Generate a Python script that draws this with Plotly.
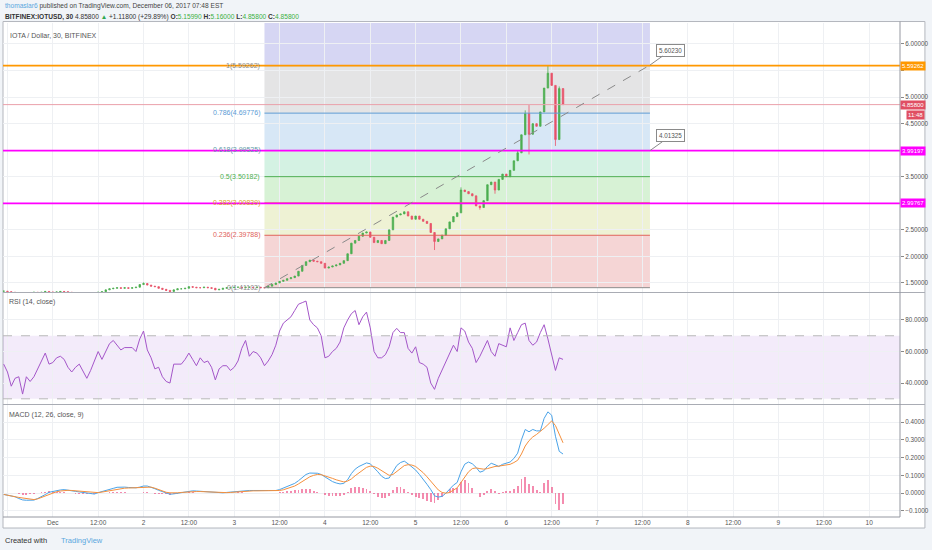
import pandas as pd
import plotly.graph_objects as go

# hourly candles, 2017-11-30 11:00 -> 2017-12-06 15:00
closes = [
    1.345, 1.335, 1.325, 1.32, 1.32, 1.315, 1.32, 1.32, 1.325, 1.32, 1.325, 1.34, 1.325,
    1.325, 1.33, 1.34, 1.335, 1.325, 1.32, 1.32, 1.315, 1.32, 1.32,
    1.315, 1.32, 1.325, 1.335, 1.37, 1.39, 1.40, 1.41, 1.40, 1.41,
    1.40, 1.41, 1.42, 1.47, 1.49, 1.46, 1.44, 1.43, 1.40, 1.38,
    1.36, 1.34, 1.37, 1.39, 1.39, 1.40, 1.43, 1.42, 1.41, 1.41,
    1.42, 1.41, 1.40, 1.37, 1.38, 1.40, 1.41, 1.41, 1.42, 1.42,
    1.41, 1.42, 1.42, 1.41, 1.42, 1.41, 1.41, 1.44, 1.47, 1.50,
    1.53, 1.55, 1.58, 1.60, 1.63, 1.72, 1.83, 1.90, 1.93, 1.91,
    1.90, 1.87, 1.78, 1.80, 1.82, 1.84, 1.87, 1.92, 2.05, 2.25,
    2.30, 2.38, 2.44, 2.46, 2.36, 2.26, 2.30, 2.24, 2.30, 2.50,
    2.74, 2.78, 2.80, 2.84, 2.76, 2.70, 2.76, 2.70, 2.66, 2.62,
    2.45, 2.28, 2.33, 2.40, 2.52, 2.65, 2.75, 2.82, 3.25, 3.22,
    3.18, 3.14, 2.95, 2.92, 3.05, 3.35, 3.40, 3.25, 3.45, 3.55,
    3.50, 3.62, 3.80, 3.95, 4.29, 4.69, 4.30, 4.50, 4.45, 4.72,
    5.17, 5.45, 5.22, 4.20, 5.16, 4.858,
]
wick_high = {
    "2017-12-02 00:00": 1.51, "2017-12-05 12:00": 3.30, "2017-12-06 03:00": 4.00,
    "2017-12-06 05:00": 4.75, "2017-12-06 06:00": 4.85, "2017-12-06 11:00": 5.59,
    "2017-12-06 14:00": 5.20, "2017-12-06 15:00": 5.16,
}
wick_low = {
    "2017-12-05 05:00": 2.12, "2017-12-05 17:00": 2.88, "2017-12-05 21:00": 3.18,
    "2017-12-06 06:00": 3.92, "2017-12-06 11:00": 5.17, "2017-12-06 13:00": 4.08,
}

rsi = [
    52, 47, 38, 43, 44, 33, 44, 41, 44, 49, 54, 59, 52,
    53, 56, 57, 55, 50, 47, 50, 52, 47, 43,
    48, 54, 60, 55, 60, 65, 67, 64, 61, 62.5,
    62.5, 62.5, 60, 68, 73, 61, 56, 49, 50, 44,
    41, 40, 52, 52, 52, 55, 59, 55, 51, 56,
    53, 54, 50, 42, 49, 51, 51, 48, 50, 54,
    62, 67, 57, 60, 59, 56, 51, 54, 58, 64,
    73, 78, 80, 82, 86, 90, 91, 92, 80, 77,
    75, 70, 56, 57, 60, 62, 66, 75, 80, 84,
    86, 77, 82, 85, 75, 60, 56, 56, 58, 63,
    72, 74.7, 72, 72, 62, 59, 63, 53, 52, 50,
    40, 36, 43, 48, 54, 59, 64, 60, 75, 73,
    66, 62, 53, 57, 62, 67, 60, 57, 65, 64,
    63, 75, 67, 72, 77, 78, 67, 64, 66, 72,
    77, 68, 58, 48, 56, 55,
]

macd = [
    -0.007, -0.010, -0.014, -0.020, -0.030, -0.038, -0.040, -0.040, -0.039, -0.030, -0.020, -0.008, 0.005,
    0.010, 0.014, 0.018, 0.020, 0.018, 0.014, 0.010, 0.007, 0.003, 0.000,
    -0.004, -0.005, 0.003, 0.008, 0.013, 0.020, 0.027, 0.033, 0.035, 0.034,
    0.032, 0.030, 0.030, 0.034, 0.040, 0.040, 0.034, 0.025, 0.016, 0.008,
    0.000, -0.006, -0.004, 0.000, 0.004, 0.008, 0.012, 0.013, 0.012, 0.010,
    0.008, 0.006, 0.004, 0.002, 0.001, 0.002, 0.004, 0.006, 0.009, 0.012,
    0.014, 0.015, 0.015, 0.015, 0.014, 0.014, 0.014, 0.015, 0.015, 0.015,
    0.020, 0.028, 0.035, 0.043, 0.055, 0.070, 0.090, 0.105, 0.113, 0.114,
    0.112, 0.105, 0.090, 0.075, 0.065, 0.057, 0.052, 0.055, 0.075, 0.110,
    0.135, 0.150, 0.160, 0.170, 0.165, 0.145, 0.120, 0.095, 0.082, 0.085,
    0.120, 0.155, 0.172, 0.180, 0.165, 0.150, 0.130, 0.105, 0.080, 0.050,
    0.020, -0.015, -0.022, -0.018, 0.000, 0.025, 0.045, 0.060, 0.120, 0.163,
    0.175, 0.165, 0.145, 0.118, 0.125, 0.150, 0.168, 0.160, 0.150, 0.162,
    0.170, 0.175, 0.195, 0.225, 0.300, 0.358, 0.345, 0.358, 0.350, 0.350,
    0.420, 0.457, 0.438, 0.320, 0.235, 0.220,
]
signal = [
    -0.007, -0.010, -0.014, -0.020, -0.024, -0.028, -0.032, -0.035, -0.036, -0.032, -0.024, -0.015, -0.005,
    0.002, 0.008, 0.012, 0.015, 0.016, 0.015, 0.013, 0.010, 0.008, 0.005,
    0.003, 0.002, 0.003, 0.006, 0.010, 0.015, 0.020, 0.024, 0.026, 0.028,
    0.029, 0.030, 0.031, 0.033, 0.035, 0.036, 0.034, 0.028, 0.020, 0.012,
    0.005, 0.002, 0.001, 0.002, 0.004, 0.006, 0.008, 0.009, 0.009, 0.009,
    0.008, 0.007, 0.005, 0.003, 0.002, 0.002, 0.003, 0.004, 0.006, 0.008,
    0.010, 0.012, 0.013, 0.013, 0.013, 0.013, 0.013, 0.013, 0.013, 0.013,
    0.015, 0.019, 0.025, 0.032, 0.040, 0.052, 0.065, 0.080, 0.092, 0.100,
    0.105, 0.104, 0.098, 0.090, 0.083, 0.075, 0.068, 0.063, 0.068, 0.080,
    0.098, 0.115, 0.130, 0.145, 0.152, 0.150, 0.140, 0.125, 0.110, 0.100,
    0.105, 0.120, 0.140, 0.155, 0.160, 0.158, 0.150, 0.135, 0.115, 0.092,
    0.068, 0.040, 0.018, 0.004, 0.000, 0.004, 0.015, 0.030, 0.060, 0.090,
    0.120, 0.138, 0.142, 0.138, 0.135, 0.138, 0.145, 0.150, 0.152, 0.155,
    0.158, 0.162, 0.172, 0.185, 0.220, 0.265, 0.295, 0.316, 0.330, 0.345,
    0.365, 0.385, 0.406, 0.380, 0.330, 0.283,
]

# fibonacci retracement tool
fib_labels = ["0", "0.236", "0.382", "0.5", "0.618", "0.786", "1"]
fib_values = [1.41102, 2.39788, 3.00839, 3.50182, 3.99525, 4.69776, 5.59262]
fib_line_colors = ["#8c8c8c", "#e0625a", "#d9a520", "#4caf50", "#5b9aa6", "#5b9bd5", "#8c8c8c"]
fib_fill_colors = ["#f5d5d5", "#eef2d4", "#d7f2d5", "#d4f2e3", "#d7e7f6", "#e4e4e5", "#d6d6f3"]
fib_start = "2017-12-03 08:00"
fib_end = "2017-12-07 14:00"
trend_end_value = 5.60230

hline_values = [5.59262, 3.99197, 2.99767]
hline_colors = ["#ff9800", "#ff00ff", "#ff00ff"]
last_price = 4.858

x_tickvals = pd.date_range("2017-11-30 12:00", "2017-12-10 00:00", freq="12h")
x_ticktext = ["12:00", "Dec", "12:00", "2", "12:00", "3", "12:00", "4", "12:00", "5",
              "12:00", "6", "12:00", "7", "12:00", "8", "12:00", "9", "12:00", "10"]
price_ticks = [1.5, 2.0, 2.5, 3.0, 3.5, 4.0, 4.5, 5.0, 5.5, 6.0]
price_ticktext = ["1.50000", "2.00000", "2.50000", "", "3.50000", "", "4.50000", "5.00000", "", "6.00000"]
rsi_ticks = [40, 60, 80]
macd_ticks = [-0.1, 0.0, 0.1, 0.2, 0.3, 0.4]

times = pd.date_range("2017-11-30 11:00", periods=len(closes), freq="h")
opens = [closes[0]] + closes[:-1]
highs, lows = [], []
for t, o, c in zip(times, opens, closes):
    key = t.strftime("%Y-%m-%d %H:%M")
    highs.append(wick_high.get(key, max(o, c)))
    lows.append(wick_low.get(key, min(o, c)))
hist = [m - s for m, s in zip(macd, signal)]

FONT = "Liberation Sans, Arial, sans-serif"
GRID = "#eef0f3"
AXIS = "#9598a1"
x_range = ["2017-11-30 10:49", "2017-12-10 08:10"]

fig = go.Figure()

fig.add_trace(go.Candlestick(
    x=times, open=opens, high=highs, low=lows, close=closes, xaxis="x", yaxis="y",
    increasing=dict(line=dict(color="#4caf50", width=0.8), fillcolor="#4caf50"),
    decreasing=dict(line=dict(color="#e8536a", width=0.8), fillcolor="#e8536a"),
    whiskerwidth=0, showlegend=False, hoverinfo="skip"))

fig.add_trace(go.Scatter(x=times, y=rsi, xaxis="x2", yaxis="y2", mode="lines",
                         line=dict(color="#a456c9", width=1), showlegend=False, hoverinfo="skip"))

fig.add_trace(go.Bar(x=times, y=hist, xaxis="x3", yaxis="y3", width=1800000,
                     marker=dict(color="rgba(236, 64, 122, 0.6)", line=dict(width=0)),
                     showlegend=False, hoverinfo="skip"))
fig.add_trace(go.Scatter(x=times, y=macd, xaxis="x3", yaxis="y3", mode="lines",
                         line=dict(color="#4aa3e8", width=1), showlegend=False, hoverinfo="skip"))
fig.add_trace(go.Scatter(x=times, y=signal, xaxis="x3", yaxis="y3", mode="lines",
                         line=dict(color="#f5903d", width=1), showlegend=False, hoverinfo="skip"))

shapes = []
# white chart frame
shapes.append(dict(type="rect", xref="paper", yref="paper", x0=0, x1=1.0278, y0=-0.0223, y1=1.003,
                   fillcolor="white", line=dict(color="#b3b6bd", width=1), layer="below"))
# fib zones
zone_bounds = fib_values + [6.395]
for i in range(len(fib_values)):
    shapes.append(dict(type="rect", xref="x", yref="y", x0=fib_start, x1=fib_end,
                       y0=zone_bounds[i], y1=zone_bounds[i + 1],
                       fillcolor=fib_fill_colors[i], line=dict(width=0), layer="below"))
for v, c in zip(fib_values, fib_line_colors):
    shapes.append(dict(type="line", xref="x", yref="y", x0=fib_start, x1=fib_end, y0=v, y1=v,
                       line=dict(color=c, width=1), layer="above"))
# horizontal lines
shapes.append(dict(type="line", xref="paper", yref="y", x0=0, x1=1, y0=last_price, y1=last_price,
                   line=dict(color="#eaa0aa", width=1), layer="above"))
for v, c in zip(hline_values, hline_colors):
    shapes.append(dict(type="line", xref="paper", yref="y", x0=0, x1=1, y0=v, y1=v,
                       line=dict(color=c, width=1.6), layer="above"))
# trend line
shapes.append(dict(type="line", xref="x", yref="y", x0=fib_start, x1=fib_end,
                   y0=fib_values[0], y1=trend_end_value,
                   line=dict(color="#8a8a8a", width=1, dash="dash"), layer="above"))
# rsi band
shapes.append(dict(type="rect", xref="paper", yref="y2", x0=0, x1=1, y0=30, y1=70,
                   fillcolor="rgba(160, 90, 210, 0.12)", line=dict(width=0), layer="below"))
for v in [30, 70]:
    shapes.append(dict(type="line", xref="paper", yref="y2", x0=0, x1=1, y0=v, y1=v,
                       line=dict(color="#b8b8b8", width=1, dash="dash"), layer="above"))
# pane separators and axis lines
for yp in [0.4545, 0.2277]:
    shapes.append(dict(type="line", xref="paper", yref="paper", x0=0, x1=1.0278, y0=yp, y1=yp,
                       line=dict(color="#a9acb4", width=1.2)))
shapes.append(dict(type="line", xref="paper", yref="paper", x0=1, x1=1, y0=0, y1=1.003,
                   line=dict(color=AXIS, width=1)))
shapes.append(dict(type="line", xref="paper", yref="paper", x0=0, x1=1, y0=0, y1=0,
                   line=dict(color=AXIS, width=1)))

annotations = []


def note(text, x, y, xref="paper", yref="paper", xanchor="left", color="#555", size=6.6, **kw):
    annotations.append(dict(text=text, x=x, y=y, xref=xref, yref=yref, xanchor=xanchor,
                            yanchor="middle", showarrow=False,
                            font=dict(family=FONT, size=size, color=color), **kw))


note("<span style='color:#5aa7de'>thomaslar6</span> published on TradingView.com, December 06, 2017 07:48 EST",
     0, 1.0344, color="#444")
green = "#3cb043"
note("<b>BITFINEX:IOTUSD, 30</b> 4.85800 <span style='color:#2fa84f'>▲</span> +1.11800 (+29.89%) "
     f"<b>O:</b><span style='color:{green}'>5.15990</span> <b>H:</b><span style='color:{green}'>5.16000</span> "
     f"<b>L:</b><span style='color:{green}'>4.85800</span> <b>C:</b><span style='color:{green}'>4.85800</span>",
     0, 1.0121, color="#333")
note("IOTA / Dollar, 30, BITFINEX", 0.0056, 0.9757, color="#555", size=7)
note("RSI (14, close)", 0.0045, 0.4352, color="#555", size=7)
note("MACD (12, 26, close, 9)", 0.0045, 0.2065, color="#555", size=7)
note("Created with", 0, -0.0466, color="#333", size=7.5)
note("TradingView", 0.062, -0.0466, color="#5aa7de", size=7.5)

for lab, v, c in zip(fib_labels, fib_values, fib_line_colors):
    note(f"{lab}({v:.5f})", fib_start, v, xref="x", yref="y", xanchor="right", color=c, size=7, xshift=-2)

# right axis price labels
for v, c in zip([hline_values[0], last_price, hline_values[1], hline_values[2]],
                ["#ff9800", "#e04e63", "#ff00ff", "#ff00ff"]):
    note(f"{v:.5f}", 1.0, v, yref="y", color="white", size=6, bgcolor=c, borderpad=1)
note("11:48", 1.0278, 4.663, yref="y", xanchor="right", color="white", size=6, bgcolor="#e04e63", borderpad=1)

# callouts on the trend line
for v, txt in [(trend_end_value, "5.60230"), (hline_values[1], "4.01325")]:
    annotations.append(dict(text=txt, x=fib_end, y=v, xref="x", yref="y", showarrow=True,
                            arrowhead=0, arrowwidth=1, arrowcolor="#8a8a8a", ax=21, ay=-15,
                            bgcolor="white", bordercolor="#8a8a8a", borderwidth=1, borderpad=2,
                            font=dict(family=FONT, size=6.3, color="#555")))

xcommon = dict(range=x_range, type="date", tickvals=x_tickvals, showgrid=True, gridcolor=GRID,
               gridwidth=1, zeroline=False, showline=False)
ycommon = dict(side="right", showgrid=True, gridcolor=GRID, zeroline=False, showline=False,
               ticks="outside", ticklen=3, tickcolor="#888",
               tickfont=dict(family=FONT, size=6.3, color="#555"))

fig.update_layout(
    width=932, height=550,
    margin=dict(l=3, r=29, t=23, b=33),
    paper_bgcolor="#f1f4f8", plot_bgcolor="white",
    bargap=0, boxgap=0.45, showlegend=False, hovermode=False,
    xaxis=dict(**xcommon, anchor="y", matches="x3", showticklabels=False, rangeslider=dict(visible=False)),
    xaxis2=dict(**xcommon, anchor="y2", matches="x3", showticklabels=False),
    xaxis3=dict(**xcommon, anchor="y3", ticktext=x_ticktext, ticks="",
                tickfont=dict(family=FONT, size=6.5, color="#555")),
    yaxis=dict(**ycommon, anchor="x", domain=[0.4555, 1], range=[1.33, 6.395],
               tickvals=price_ticks, ticktext=price_ticktext),
    yaxis2=dict(**ycommon, anchor="x2", domain=[0.2287, 0.4534], range=[26.7, 97.1],
                tickvals=rsi_ticks, tickformat=".4f"),
    yaxis3=dict(**ycommon, anchor="x3", domain=[0, 0.2267], range=[-0.134, 0.4955],
                tickvals=macd_ticks, tickformat=".4f"),
    shapes=shapes, annotations=annotations,
)

fig.write_html("out.html", config={"displayModeBar": False},
               post_script="document.body.style.margin='0px';document.body.style.overflow='hidden';")
